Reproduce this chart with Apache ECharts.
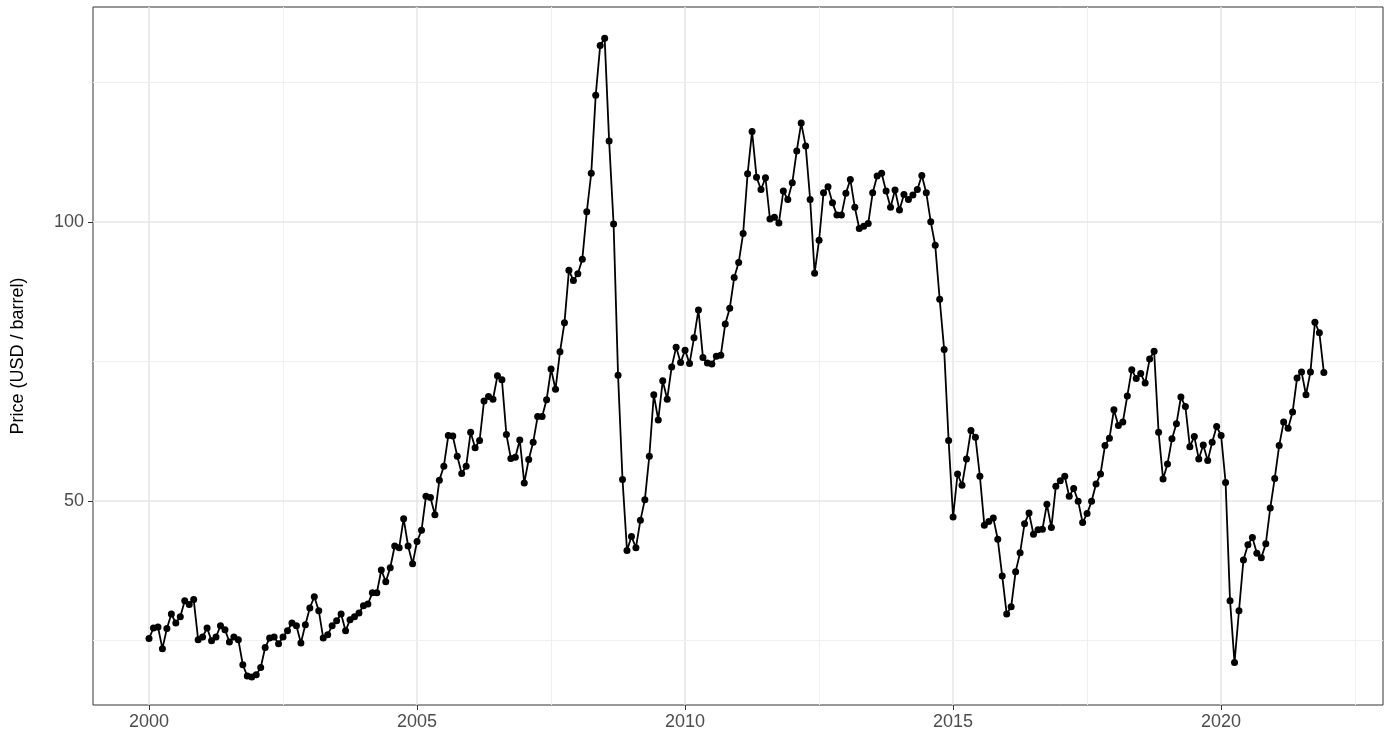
<!DOCTYPE html>
<html><head><meta charset="utf-8">
<script src="https://cdn.jsdelivr.net/npm/echarts@6/dist/echarts.min.js"></script>
<style>html,body{margin:0;padding:0;background:#fff}#c{width:1397px;height:745px}</style>
</head><body><div id="c"></div>
<script>
const startYear = 2000;
const prices = [
25.3,27.2,27.4,23.5,27.1,29.7,28.1,29.2,32.1,31.4,32.3,25.1,
25.6,27.2,24.9,25.6,27.6,26.9,24.7,25.6,25.1,20.6,18.6,18.4,
18.8,20.1,23.7,25.4,25.6,24.4,25.6,26.7,28.1,27.6,24.5,27.8,
30.8,32.8,30.3,25.4,26.0,27.6,28.5,29.7,26.7,28.7,29.2,29.9,
31.2,31.5,33.5,33.5,37.6,35.5,38.0,41.9,41.6,46.8,41.9,38.7,
42.7,44.7,50.8,50.6,47.5,53.7,56.2,61.7,61.6,58.0,54.9,56.2,
62.3,59.5,60.8,67.9,68.7,68.2,72.4,71.7,61.9,57.6,57.8,60.9,
53.2,57.4,60.5,65.1,65.1,68.1,73.6,70.0,76.7,81.9,91.3,89.5,
90.7,93.3,101.8,108.7,122.7,131.6,132.9,114.5,99.6,72.5,53.8,41.1,
43.6,41.6,46.5,50.2,58.0,69.0,64.5,71.5,68.2,74.0,77.5,74.8,
77.0,74.6,79.2,84.2,75.7,74.7,74.5,75.9,76.1,81.7,84.5,90.0,
92.7,97.9,108.6,116.2,108.0,105.8,107.9,100.5,100.8,99.8,105.5,104.0,
107.0,112.7,117.7,113.6,104.0,90.8,96.7,105.2,106.3,103.4,101.2,101.2,
105.1,107.6,102.6,98.8,99.2,99.7,105.2,108.2,108.7,105.5,102.6,105.7,
102.1,104.9,104.0,104.8,105.8,108.3,105.2,100.0,95.8,86.1,77.1,60.8,
47.1,54.8,52.8,57.5,62.6,61.4,54.4,45.6,46.3,46.9,43.1,36.5,
29.7,31.0,37.3,40.7,45.9,47.8,44.0,44.8,44.9,49.4,45.2,52.6,
53.6,54.4,50.8,52.2,49.9,46.1,47.7,49.9,53.0,54.8,59.9,61.2,
66.3,63.5,64.1,68.8,73.5,71.9,72.8,71.1,75.4,76.8,62.3,53.9,
56.6,61.1,63.8,68.6,66.9,59.7,61.5,57.5,60.0,57.2,60.5,63.3,
61.7,53.3,32.1,21.0,30.3,39.4,42.1,43.4,40.6,39.8,42.3,48.7,
54.0,59.9,64.1,63.0,65.9,72.0,73.1,69.0,73.1,82.0,80.1,73.0
];
const xTicks = [2000,2005,2010,2015,2020];
const xMinor = [2002.5,2007.5,2012.5,2017.5,2022.5];
const yTicks = [50,100];
const yMinor = [25,75,125];

const data = prices.map((v,i)=>[startYear + i/12, v]);
const major = {color:'#E6E6E6', width:1.5, type:'solid'};
const minor = {color:'#EFEFEF', width:1, type:'solid'};
const gridLines = [].concat(
  xTicks.map(v=>({xAxis:v, lineStyle:major})),
  xMinor.map(v=>({xAxis:v, lineStyle:minor})),
  yTicks.map(v=>({yAxis:v, lineStyle:major})),
  yMinor.map(v=>({yAxis:v, lineStyle:minor}))
);
const axisText = {color:'#4D4D4D', fontSize:18, fontFamily:'Liberation Sans, Arial, sans-serif'};
const chart = echarts.init(document.getElementById('c'));
chart.setOption({
  animation:false,
  grid:{left:93, right:14, top:7, bottom:40, containLabel:false, outerBoundsMode:'none',
    show:true, borderColor:'#333333', borderWidth:1, backgroundColor:'#fff'},
  xAxis:{type:'value', min:1998.955, max:2023.02,
    axisLine:{show:false}, splitLine:{show:false},
    axisTick:{show:true, customValues:xTicks, length:5, lineStyle:{color:'#333'}},
    axisLabel:Object.assign({customValues:xTicks, margin:8, formatter:v=>String(Math.round(v))}, axisText)},
  yAxis:{type:'value', min:13.4, max:138.5,
    name:'Price (USD / barrel)', nameLocation:'middle', nameGap:66,
    nameTextStyle:{color:'#000', fontSize:18, fontFamily:'Liberation Sans, Arial, sans-serif'},
    axisLine:{show:false}, splitLine:{show:false},
    axisTick:{show:true, customValues:yTicks, length:5, lineStyle:{color:'#333'}},
    axisLabel:Object.assign({customValues:yTicks, margin:9}, axisText)},
  series:[
    {type:'line', data:[], silent:true,
     markLine:{silent:true, symbol:'none', label:{show:false}, animation:false, data:gridLines}},
    {type:'line', data:data, z:5, symbol:'circle', symbolSize:7, showSymbol:true,
     itemStyle:{color:'#000'}, lineStyle:{color:'#000', width:1.8}}
  ]
});
</script></body></html>
